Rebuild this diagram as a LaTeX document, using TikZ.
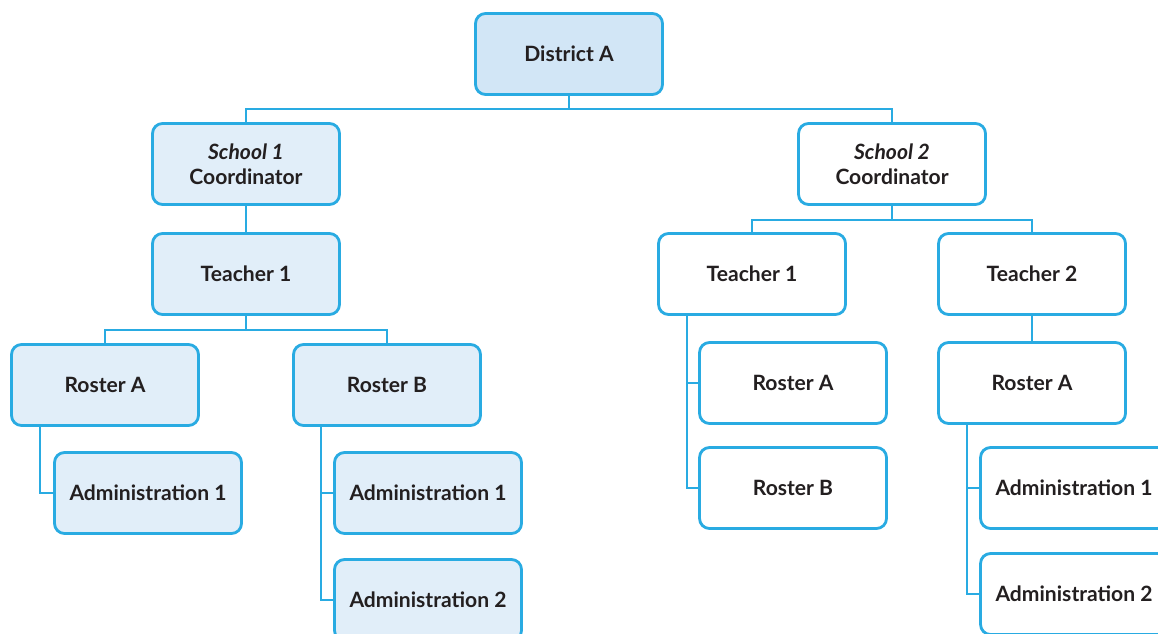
\documentclass[tikz,border=0pt]{standalone}
\usepackage{fontspec}
\setmainfont{Lato}
\usetikzlibrary{positioning}
\definecolor{edge}{HTML}{29ABE2}
\definecolor{headfill}{HTML}{D2E6F6}
\definecolor{bluefill}{HTML}{E1EEF9}
\definecolor{ink}{HTML}{231F20}
\tikzstyle{box} = [rectangle, rounded corners=0.2cm, minimum width=3.74cm, minimum height=1.62cm, text centered, align=center, draw=edge, line width=1.6pt, text=ink, font=\fontsize{12}{14.5}\selectfont\bfseries]
\tikzstyle{headbox} = [box, fill=headfill]
\tikzstyle{bluebox} = [box, fill=bluefill]
\tikzstyle{whitebox} = [box, fill=white]
\tikzstyle{line} = [draw=edge, line width=1.6pt]

\begin{document}
\begin{tikzpicture}[x=0.02cm, y=-0.02cm]
    \useasboundingbox (0,0) rectangle (1158,634);
    \clip (0,0) rectangle (1158,634);

    \node (dist) [headbox] at (569,54) {District A};
    \node (sch1) [bluebox] at (246,164) {{\itshape School 1}\\Coordinator};
    \node (sch2) [whitebox] at (892,164) {{\itshape School 2}\\Coordinator};

    % school 1 branch
    \node (t11) [bluebox] at (246,274) {Teacher 1};
    \node (r11A) [bluebox] at (105,385) {Roster A};
    \node (r11B) [bluebox] at (387,385) {Roster B};
    \node (a11A) [bluebox] at (148,493) {Administration 1};
    \node (a11B1) [bluebox] at (428,493) {Administration 1};
    \node (a11B2) [bluebox] at (428,600) {Administration 2};

    % school 2 branch
    \node (t21) [whitebox] at (752,274) {Teacher 1};
    \node (t22) [whitebox] at (1032,274) {Teacher 2};
    \node (r21A) [whitebox] at (793,383) {Roster A};
    \node (r21B) [whitebox] at (793,488) {Roster B};
    \node (r22A) [whitebox] at (1032,383) {Roster A};
    \node (a22A1) [whitebox] at (1074,488) {Administration 1};
    \node (a22A2) [whitebox] at (1074,594) {Administration 2};

    \coordinate (j0) at (569,109);
    \coordinate (j1) at (246,330);
    \coordinate (j2) at (892,220);
    \coordinate (s11A) at (40,427);
    \coordinate (s11B) at (321,427);
    \coordinate (s21) at (687,316);
    \coordinate (s22) at (967,424);

    \draw [line] (dist) -- (j0);
    \draw [line] (j0) -| (sch1);
    \draw [line] (j0) -| (sch2);
    \draw [line] (sch1) -- (t11);
    \draw [line] (t11) -- (j1);
    \draw [line] (j1) -| (r11A);
    \draw [line] (j1) -| (r11B);
    \draw [line] (s11A) |- (a11A);
    \draw [line] (s11B) |- (a11B2);
    \draw [line] (s11B |- a11B1) -- (a11B1);
    \draw [line] (sch2) -- (j2);
    \draw [line] (j2) -| (t21);
    \draw [line] (j2) -| (t22);
    \draw [line] (s21) |- (r21B);
    \draw [line] (s21 |- r21A) -- (r21A);
    \draw [line] (t22) -- (r22A);
    \draw [line] (s22) |- (a22A2);
    \draw [line] (s22 |- a22A1) -- (a22A1);
\end{tikzpicture}
\end{document}
